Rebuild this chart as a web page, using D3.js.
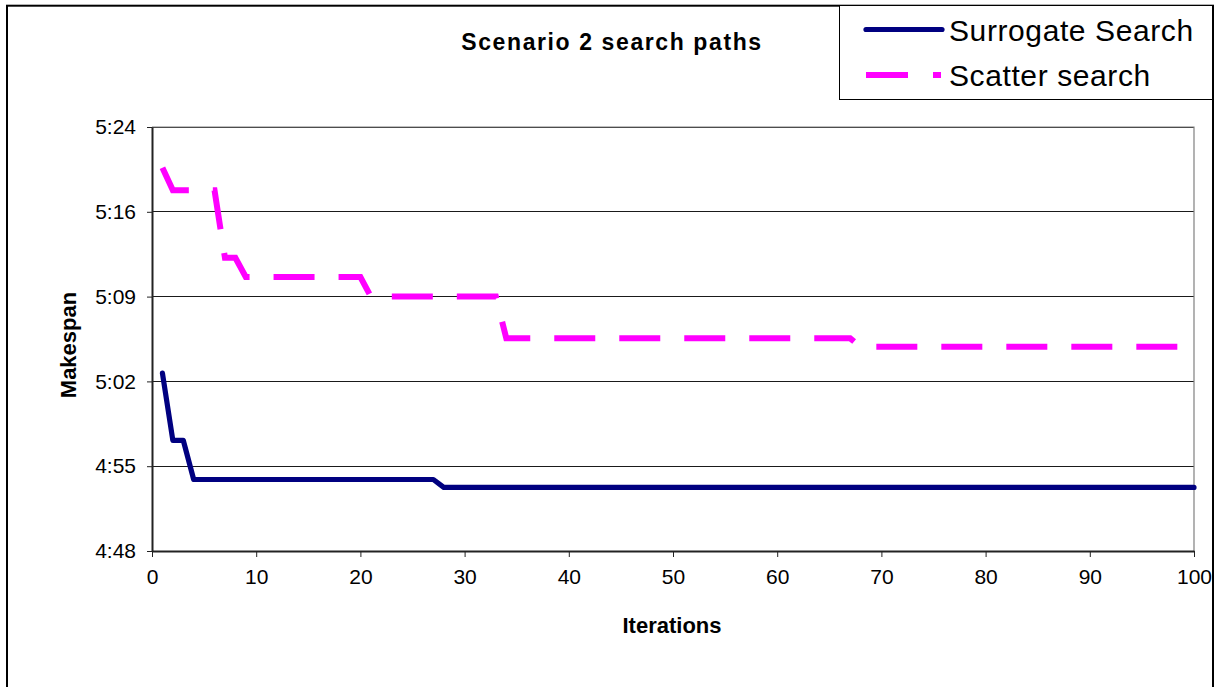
<!DOCTYPE html>
<html>
<head>
<meta charset="utf-8">
<script src="https://cdn.jsdelivr.net/npm/d3@7"></script>
<style>
  html, body { margin: 0; padding: 0; background: #fff; }
  svg { display: block; font-family: "Liberation Sans", Arial, sans-serif; }
</style>
</head>
<body>
<svg id="chart" width="1215" height="687"></svg>
<script>
// Makespan in minutes at each iteration where the best solution changed
const surrogateIter = [1, 2, 3, 4, 27, 28, 100];
const surrogateMin  = [303.1, 297.4, 297.4, 294.07, 294.07, 293.4, 293.4];

const scatterIter = [1, 2, 6, 7, 8, 9, 20, 21, 33, 34, 67, 68, 100];
const scatterMin  = [320.55, 318.62, 318.62, 312.9, 312.9, 311.26, 311.26, 309.6, 309.6, 306.06, 306.06, 305.35, 305.35];

const xTicks = [0, 10, 20, 30, 40, 50, 60, 70, 80, 90, 100];
// y axis runs in steps of 0.005 day (7.2 minutes)
const yTicks = [288, 295.2, 302.4, 309.6, 316.8, 324];

const seriesNames = ["Surrogate Search", "Scatter search"];

const svg = d3.select("#chart");

// outer chart frame
svg.append("rect")
  .attr("x", 7).attr("y", 5.7).attr("width", 1206).attr("height", 700)
  .attr("fill", "#fff").attr("stroke", "#000").attr("stroke-width", 2);

const x = d3.scaleLinear().domain([0, 100]).range([152, 1194]);
const y = d3.scaleLinear().domain([288, 324]).range([551, 127]);

const fmtTime = v => {
  const h = Math.floor(v / 60 + 1e-9);
  const m = Math.floor(v - h * 60 + 1e-6);
  return h + ":" + String(m).padStart(2, "0");
};

// horizontal gridlines
svg.append("g")
  .selectAll("line")
  .data(yTicks.slice(1))
  .join("line")
  .attr("x1", x(0)).attr("x2", x(100))
  .attr("y1", d => y(d)).attr("y2", d => y(d))
  .attr("stroke", "#1a1a1a").attr("stroke-width", 1)
  .attr("shape-rendering", "crispEdges");

// plot area border on top and right
svg.append("path")
  .attr("d", `M${x(0)},${y(324)}H${x(100)}V${y(288)}`)
  .attr("fill", "none").attr("stroke", "#808080").attr("stroke-width", 1.2);

// axes
const xAxis = svg.append("g")
  .attr("transform", `translate(0,${y(288)})`)
  .call(d3.axisBottom(x).tickValues(xTicks).tickSize(6).tickSizeOuter(0).tickPadding(7));
const yAxis = svg.append("g")
  .attr("transform", `translate(${x(0)},0)`)
  .call(d3.axisLeft(y).tickValues(yTicks).tickFormat(fmtTime).tickSize(5).tickSizeOuter(0).tickPadding(11));

[xAxis, yAxis].forEach(g => {
  g.select(".domain").attr("stroke", "#222").attr("stroke-width", 2);
  g.selectAll(".tick line").attr("stroke", "#222").attr("stroke-width", 1);
  g.selectAll(".tick text")
    .attr("fill", "#000")
    .style("font-size", "21px");
});
xAxis.selectAll(".tick text").attr("dy", "0.95em");

// series lines
const line = d3.line().x(d => x(d[0])).y(d => y(d[1]));
const surrogateData = d3.zip(surrogateIter, surrogateMin);
const scatterData = d3.zip(scatterIter, scatterMin);

svg.append("path")
  .datum(scatterData)
  .attr("d", line)
  .attr("fill", "none")
  .attr("stroke", "#ff00ff")
  .attr("stroke-width", 6)
  .attr("stroke-dasharray", "41,24")
  .attr("stroke-linejoin", "miter");

svg.append("path")
  .datum(surrogateData)
  .attr("d", line)
  .attr("fill", "none")
  .attr("stroke", "#000080")
  .attr("stroke-width", 5.2)
  .attr("stroke-linejoin", "round")
  .attr("stroke-linecap", "round");

// titles
svg.append("text")
  .attr("x", 612).attr("y", 50)
  .attr("text-anchor", "middle")
  .style("font-size", "23px").style("font-weight", "bold").style("letter-spacing", "1.6px")
  .text("Scenario 2 search paths");

svg.append("text")
  .attr("x", 672).attr("y", 633)
  .attr("text-anchor", "middle")
  .style("font-size", "22px").style("font-weight", "bold")
  .text("Iterations");

svg.append("text")
  .attr("transform", "translate(76,345) rotate(-90)")
  .attr("text-anchor", "middle")
  .style("font-size", "22px").style("font-weight", "bold")
  .text("Makespan");

// legend
const legend = svg.append("g");
legend.append("rect")
  .attr("x", 839.5).attr("y", 5.5).attr("width", 373).attr("height", 94)
  .attr("fill", "#fff").attr("stroke", "#000").attr("stroke-width", 1);

legend.append("line")
  .attr("x1", 866).attr("x2", 942).attr("y1", 29.5).attr("y2", 29.5)
  .attr("stroke", "#000080").attr("stroke-width", 5.2).attr("stroke-linecap", "round");
legend.append("line")
  .attr("x1", 866).attr("x2", 941).attr("y1", 75).attr("y2", 75)
  .attr("stroke", "#ff00ff").attr("stroke-width", 6).attr("stroke-dasharray", "42,25");

legend.selectAll("text.lg")
  .data(seriesNames)
  .join("text")
  .attr("class", "lg")
  .attr("x", 949)
  .attr("y", (d, i) => 41 + i * 45)
  .style("font-size", "30px")
  .style("letter-spacing", "0.6px")
  .text(d => d);
</script>
</body>
</html>
